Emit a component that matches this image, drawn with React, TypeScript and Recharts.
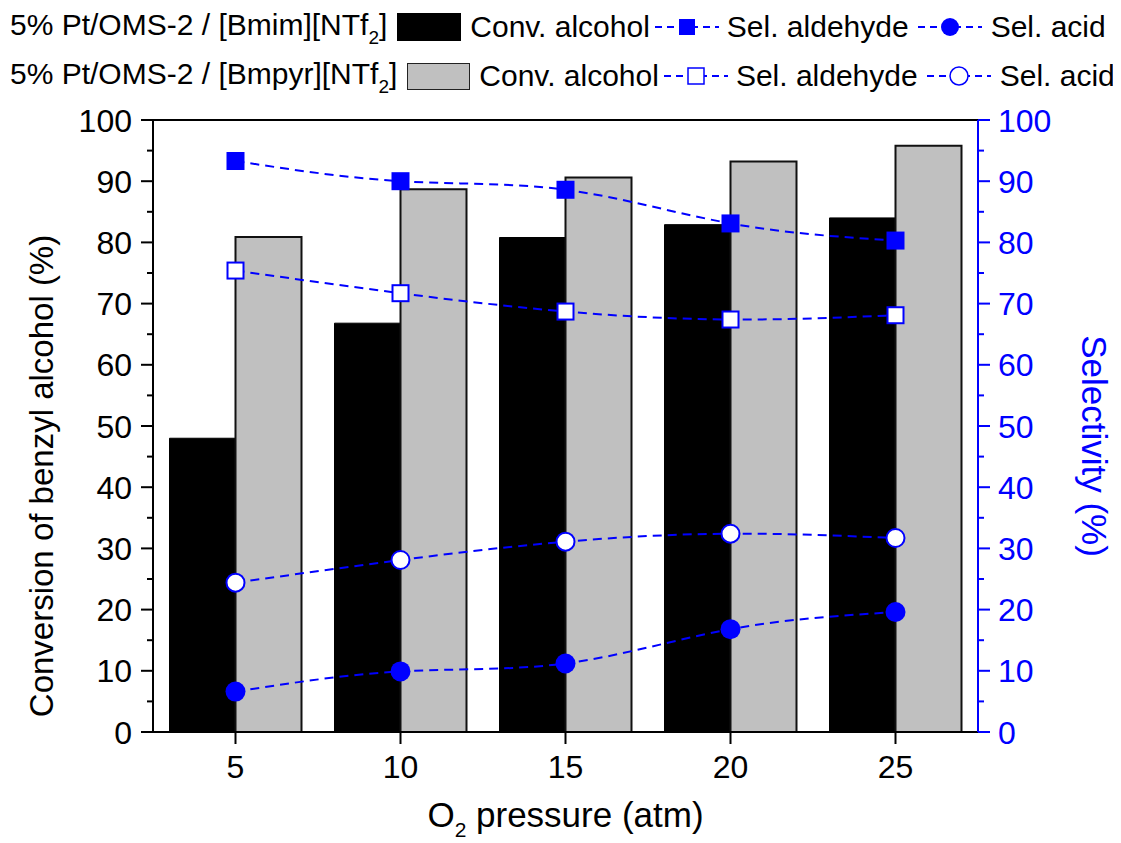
import React from 'react';
import { ComposedChart, Bar, Line, XAxis, YAxis, Label } from 'recharts';

// O2 pressure (atm)
const pressures = [5, 10, 15, 20, 25];

// Conversion of benzyl alcohol (%)
const convBmim = [48.0, 66.8, 80.8, 82.9, 84.0];
const convBmpyr = [80.9, 88.7, 90.6, 93.2, 95.8];

// Selectivity (%)
const aldBmim = [93.3, 90.0, 88.6, 83.1, 80.3];
const acidBmim = [6.6, 9.9, 11.2, 16.8, 19.6];
const aldBmpyr = [75.4, 71.7, 68.7, 67.4, 68.1];
const acidBmpyr = [24.4, 28.1, 31.1, 32.4, 31.7];

// Axis ticks (major every 10, minor every 5)
const yTicks = [0, 5, 10, 15, 20, 25, 30, 35, 40, 45, 50, 55, 60, 65, 70, 75, 80, 85, 90, 95, 100];
const topTicks = [5, 7.5, 10, 12.5, 15, 17.5, 20, 22.5, 25];

const catalystNames = ['5% Pt/OMS-2 / [Bmim][NTf', '5% Pt/OMS-2 / [Bmpyr][NTf'];
const seriesNames = ['Conv. alcohol', 'Sel. aldehyde', 'Sel. acid'];

const data = pressures.map((p, i) => ({
  p,
  convBmim: convBmim[i],
  convBmpyr: convBmpyr[i],
  aldBmim: aldBmim[i],
  acidBmim: acidBmim[i],
  aldBmpyr: aldBmpyr[i],
  acidBmpyr: acidBmpyr[i],
}));

const FONT = '"Liberation Sans", Arial, Helvetica, sans-serif';
const BLUE = '#0000FF';
const GRAY = '#C0C0C0';
const TICK_FONT = 32;
const TITLE_FONT = 35;
const MAJOR = 12;
const MINOR = 6;
const LEFT_GAP = 9;
const RIGHT_GAP = 8;

const LeftTick = (props: any) => {
  const { x, y, payload } = props;
  const v = payload.value;
  const major = v % 10 === 0;
  const axisX = x + MAJOR + LEFT_GAP;
  return (
    <g>
      <line x1={axisX - (major ? MAJOR : MINOR)} x2={axisX} y1={y} y2={y} stroke="#000" strokeWidth={2} />
      {major && (
        <text x={x} y={y} dy="0.36em" textAnchor="end" fontSize={TICK_FONT} fontFamily={FONT} fill="#000">
          {v}
        </text>
      )}
    </g>
  );
};

const RightTick = (props: any) => {
  const { x, y, payload } = props;
  const v = payload.value;
  const major = v % 10 === 0;
  const axisX = x - MAJOR - RIGHT_GAP;
  return (
    <g>
      <line x1={axisX} x2={axisX + (major ? MAJOR : MINOR)} y1={y} y2={y} stroke={BLUE} strokeWidth={2} />
      {major && (
        <text x={x} y={y} dy="0.36em" textAnchor="start" fontSize={TICK_FONT} fontFamily={FONT} fill={BLUE}>
          {v}
        </text>
      )}
    </g>
  );
};

const SquareDot = (filled: boolean) => (props: any) => {
  const { cx, cy, index } = props;
  if (cx == null || cy == null) return <g key={index} />;
  const s = filled ? 18 : 16;
  return (
    <rect
      key={index}
      x={cx - s / 2}
      y={cy - s / 2}
      width={s}
      height={s}
      fill={filled ? BLUE : '#fff'}
      stroke={BLUE}
      strokeWidth={filled ? 0 : 2}
    />
  );
};

const CircleDot = (filled: boolean) => (props: any) => {
  const { cx, cy, index } = props;
  if (cx == null || cy == null) return <g key={index} />;
  return (
    <circle key={index} cx={cx} cy={cy} r={filled ? 10 : 9} fill={filled ? BLUE : '#fff'} stroke={BLUE} strokeWidth={filled ? 0 : 2} />
  );
};

const LeftTitle = (props: any) => {
  const vb = props.viewBox;
  const cx = vb.x + 45;
  const cy = vb.y + vb.height / 2 + 50;
  return (
    <text x={cx} y={cy} transform={`rotate(-90, ${cx}, ${cy})`} textAnchor="middle" fontSize={33} fontFamily={FONT} fill="#000">
      Conversion of benzyl alcohol (%)
    </text>
  );
};

const RightTitle = (props: any) => {
  const vb = props.viewBox;
  const cx = vb.x + 104;
  const cy = vb.y + vb.height / 2 + 20;
  return (
    <text x={cx} y={cy} transform={`rotate(90, ${cx}, ${cy})`} textAnchor="middle" fontSize={TITLE_FONT} fontFamily={FONT} fill={BLUE}>
      Selectivity (%)
    </text>
  );
};

const BottomTitle = (props: any) => {
  const vb = props.viewBox;
  const cx = vb.x + vb.width / 2;
  const cy = vb.y + 95;
  return (
    <text x={cx} y={cy} textAnchor="middle" fontSize={TITLE_FONT} fontFamily={FONT} fill="#000">
      O<tspan fontSize={21} dy={10}>2</tspan>
      <tspan dy={-10}> pressure (atm)</tspan>
    </text>
  );
};

const LineSample = ({ shape, filled }: { shape: 'square' | 'circle'; filled: boolean }) => (
  <svg width={64} height={30} style={{ display: 'block' }}>
    <line x1={0} x2={64} y1={15} y2={15} stroke={BLUE} strokeWidth={2} strokeDasharray="7 5" />
    {shape === 'square' ? (
      <rect x={32 - 8} y={15 - 8} width={16} height={16} fill={filled ? BLUE : '#fff'} stroke={BLUE} strokeWidth={filled ? 0 : 1.5} />
    ) : (
      <circle cx={32} cy={15} r={9} fill={filled ? BLUE : '#fff'} stroke={BLUE} strokeWidth={filled ? 0 : 1.5} />
    )}
  </svg>
);

const LegendRow = ({ name, filled, top }: { name: string; filled: boolean; top: number }) => (
  <div
    style={{
      position: 'absolute',
      left: 2,
      top,
      height: 30,
      display: 'flex',
      alignItems: 'center',
      fontFamily: FONT,
      fontSize: 30,
      lineHeight: '30px',
      color: '#000',
      whiteSpace: 'nowrap',
    }}
  >
    <span>
      {name}
      <span style={{ fontSize: 19, position: 'relative', top: 9 }}>2</span>]
    </span>
    <div
      style={{
        width: filled ? 64 : 61,
        height: filled ? 28 : 25,
        marginLeft: 10,
        background: filled ? '#000' : GRAY,
        border: filled ? 'none' : '1.5px solid #222',
      }}
    />
    <span style={{ marginLeft: 9 }}>{seriesNames[0]}</span>
    <div style={{ marginLeft: 5 }}>
      <LineSample shape="square" filled={filled} />
    </div>
    <span style={{ marginLeft: 8 }}>{seriesNames[1]}</span>
    <div style={{ marginLeft: 9 }}>
      <LineSample shape="circle" filled={filled} />
    </div>
    <span style={{ marginLeft: 9 }}>{seriesNames[2]}</span>
  </div>
);

export default function App() {
  return (
    <div style={{ position: 'relative', width: 1113, height: 835, fontFamily: FONT }}>
      <ComposedChart
        width={1113}
        height={835}
        data={data}
        margin={{ top: 112, right: 0, bottom: 51, left: 0 }}
        barCategoryGap="10%"
        barGap={0}
      >
        <XAxis
          xAxisId="cat"
          dataKey="p"
          type="category"
          height={60}
          tickSize={MAJOR}
          tickMargin={11}
          axisLine={{ stroke: '#000', strokeWidth: 2 }}
          tickLine={{ stroke: '#000', strokeWidth: 2 }}
          tick={{ fontSize: TICK_FONT, fill: '#000', fontFamily: FONT }}
          interval={0}
        >
          <Label content={BottomTitle} />
        </XAxis>
        <XAxis
          xAxisId="top"
          orientation="top"
          type="number"
          domain={[2.5, 27.5]}
          ticks={topTicks}
          height={1}
          mirror
          tick={false}
          tickSize={4}
          interval={0}
          axisLine={{ stroke: '#000', strokeWidth: 2 }}
          tickLine={{ stroke: '#000', strokeWidth: 1.5 }}
        />
        <YAxis
          yAxisId="left"
          orientation="left"
          width={145}
          domain={[0, 100]}
          ticks={yTicks}
          interval={0}
          tickSize={MAJOR}
          tickMargin={LEFT_GAP}
          tickLine={false}
          axisLine={{ stroke: '#000', strokeWidth: 2 }}
          tick={LeftTick}
        >
          <Label content={LeftTitle} />
        </YAxis>
        <YAxis
          yAxisId="right"
          orientation="right"
          width={143}
          domain={[0, 100]}
          ticks={yTicks}
          interval={0}
          tickSize={MAJOR}
          tickMargin={RIGHT_GAP}
          tickLine={false}
          axisLine={{ stroke: BLUE, strokeWidth: 2 }}
          tick={RightTick}
        >
          <Label content={RightTitle} />
        </YAxis>

        <Bar xAxisId="cat" yAxisId="left" dataKey="convBmim" fill="#000" stroke="#000" strokeWidth={1} isAnimationActive={false} />
        <Bar xAxisId="cat" yAxisId="left" dataKey="convBmpyr" fill={GRAY} stroke="#111" strokeWidth={2} isAnimationActive={false} />

        <Line xAxisId="cat" yAxisId="right" dataKey="aldBmim" type="natural" stroke={BLUE} strokeWidth={2} strokeDasharray="9 6" dot={SquareDot(true)} activeDot={false} isAnimationActive={false} />
        <Line xAxisId="cat" yAxisId="right" dataKey="acidBmim" type="natural" stroke={BLUE} strokeWidth={2} strokeDasharray="9 6" dot={CircleDot(true)} activeDot={false} isAnimationActive={false} />
        <Line xAxisId="cat" yAxisId="right" dataKey="aldBmpyr" type="natural" stroke={BLUE} strokeWidth={2} strokeDasharray="9 6" dot={SquareDot(false)} activeDot={false} isAnimationActive={false} />
        <Line xAxisId="cat" yAxisId="right" dataKey="acidBmpyr" type="natural" stroke={BLUE} strokeWidth={2} strokeDasharray="9 6" dot={CircleDot(false)} activeDot={false} isAnimationActive={false} />
      </ComposedChart>

      <LegendRow name={catalystNames[0]} filled top={4} />
      <LegendRow name={catalystNames[1]} filled={false} top={53} />
    </div>
  );
}
